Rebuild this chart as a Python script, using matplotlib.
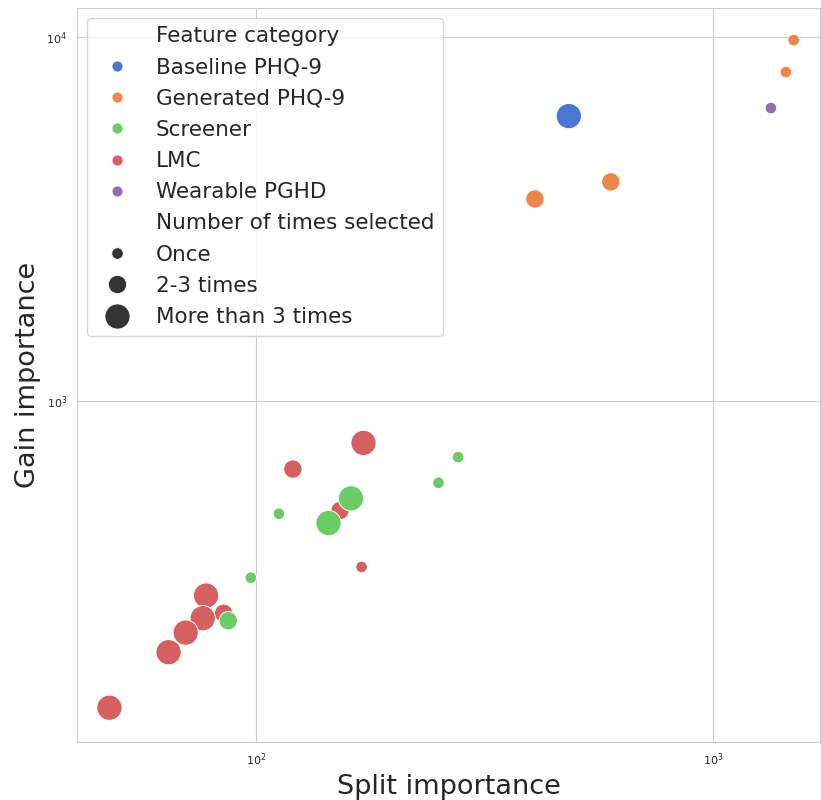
import numpy as np
import pandas as pd
import matplotlib
matplotlib.use("Agg")
import matplotlib.pyplot as plt
import seaborn as sns

# values (log-log axes)
category = (["Baseline PHQ-9"]
            + ["Generated PHQ-9"] * 4
            + ["Wearable PGHD"]
            + ["LMC"] * 10
            + ["Screener"] * 7)
split_imp = [484,
             1503, 1445, 598, 408,
             1340,
             172, 120.5, 152.8, 170.3, 77.8, 85, 76.5, 70.2, 64.4, 47.8,
             277, 251, 161.5, 112.3, 144.2, 97.5, 87]
gain_imp = [6066,
            9810, 8012, 4000, 3590,
            6382,
            767, 650, 500, 350, 292, 261, 253, 231, 204, 143.6,
            701, 596, 540, 490, 462, 327, 249]
times = (["More than 3 times"]
         + ["Once", "Once", "2-3 times", "2-3 times"]
         + ["Once"]
         + ["More than 3 times", "2-3 times", "2-3 times", "Once", "More than 3 times",
            "2-3 times", "More than 3 times", "More than 3 times", "More than 3 times",
            "More than 3 times"]
         + ["Once", "Once", "More than 3 times", "Once", "More than 3 times", "Once",
            "2-3 times"])

hue_order = ["Baseline PHQ-9", "Generated PHQ-9", "Screener", "LMC", "Wearable PGHD"]
size_order = ["Once", "2-3 times", "More than 3 times"]

df = pd.DataFrame({"Split importance": split_imp, "Gain importance": gain_imp,
                   "Feature category": category, "Number of times selected": times})

sns.set_style("whitegrid")
fig = plt.figure(figsize=(8.21, 8.0), dpi=100)
ax = fig.add_axes([77 / 821, 58 / 800, 743 / 821, 734 / 800])

sns.scatterplot(data=df, x="Split importance", y="Gain importance",
                hue="Feature category", hue_order=hue_order,
                size="Number of times selected", size_order=size_order,
                sizes={"Once": 70, "2-3 times": 175, "More than 3 times": 330},
                palette="muted", ax=ax)

ax.set_xscale("log")
ax.set_yscale("log")
ax.set_xlim(40.6, 1716)
ax.set_ylim(115.6, 12020)
ax.tick_params(labelsize=8)
ax.set_xlabel("Split importance", fontsize=19.5)
ax.set_ylabel("Gain importance", fontsize=19.5)
leg = ax.legend(loc="upper left", fontsize=15.5, borderaxespad=0.45,
                labelspacing=0.52)
for h in leg.legend_handles[1:6]:
    h.set_markersize(8)

fig.savefig("out.png", dpi=100)
